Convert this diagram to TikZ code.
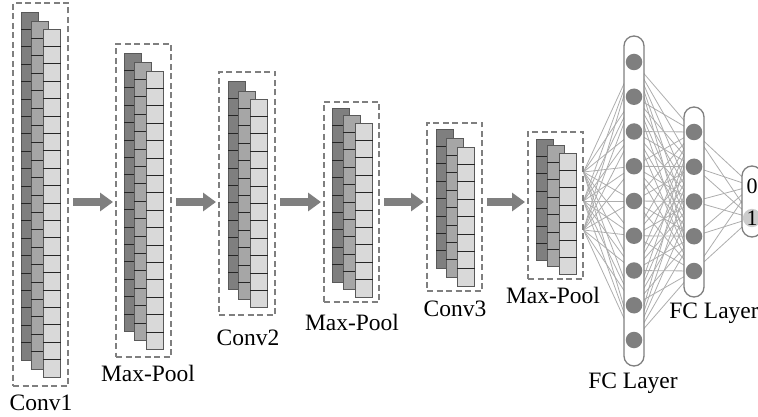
\documentclass[tikz,border=0pt]{standalone}
\usepackage{fontspec}
\setmainfont{Liberation Serif}
\usetikzlibrary{arrows.meta}
\definecolor{darkc}{HTML}{7F7F7F}
\definecolor{medc}{HTML}{A6A6A6}
\definecolor{lightc}{HTML}{D9D9D9}
\definecolor{edgec}{HTML}{595959}
\definecolor{sepc}{HTML}{262626}
\definecolor{boxc}{HTML}{7F7F7F}
\definecolor{arrowc}{HTML}{7F7F7F}
\definecolor{linkc}{HTML}{ADADAD}
\definecolor{capc}{HTML}{7F7F7F}
\definecolor{neuronc}{HTML}{7F7F7F}
\definecolor{outc}{HTML}{CCCCCC}
\pgfdeclarelayer{background}
\pgfsetlayers{background,main}
\newcommand\fmstack[4]{%
  \filldraw[fill=#4, draw=edgec, line width=0.9pt] (#1,#2) rectangle ++(17.5,{#3*17.4});
  \pgfmathtruncatemacro\fmlast{#3-1}%
  \foreach \k in {1,...,\fmlast}{\draw[sepc, line width=0.9pt] (#1,{#2+\k*17.4}) -- ++(17.5,0);}%
}
\begin{document}
\begin{tikzpicture}[x=1pt,y=-1pt,
  dbox/.style={draw=boxc, dash pattern=on 6pt off 3.5pt, line width=1.1pt, inner sep=0pt, outer sep=0pt, minimum width=55pt},
  bigarrow/.style={draw=arrowc, line width=8pt, -{Triangle[length=13pt,width=18pt]}, shorten <=5pt, shorten >=3pt},
  lbl/.style={font=\fontsize{23.5}{28}\selectfont, inner sep=0pt, anchor=base},
  caps/.style={draw=capc, fill=white, line width=1.3pt, minimum width=20pt, rounded corners=10pt, inner sep=0pt},
  neuron/.style={circle, fill=neuronc, minimum size=16.5pt, inner sep=0pt},
  outn/.style={circle, minimum size=16pt, inner sep=0pt, font=\fontsize{22}{26}\selectfont},
  link/.style={draw=linkc, line width=0.8pt}]
\useasboundingbox (0,0) rectangle (758,417);
\clip (0,0) rectangle (758,417);

% feature map stacks
\fmstack{21}{12}{20}{darkc}\fmstack{31}{21}{20}{medc}\fmstack{43}{29}{20}{lightc}
\fmstack{124}{53}{16}{darkc}\fmstack{134}{62}{16}{medc}\fmstack{146}{71}{16}{lightc}
\fmstack{228}{81}{12}{darkc}\fmstack{238}{91}{12}{medc}\fmstack{250}{99}{12}{lightc}
\fmstack{332}{108}{10}{darkc}\fmstack{343}{115}{10}{medc}\fmstack{355}{123}{10}{lightc}
\fmstack{436}{129}{8}{darkc}\fmstack{446}{138}{8}{medc}\fmstack{457}{147}{8}{lightc}
\fmstack{536}{139}{7}{darkc}\fmstack{547}{145}{7}{medc}\fmstack{559}{153}{7}{lightc}

% dashed boxes
\node[dbox, minimum height=383pt] (c1) at (40.5,194.5) {};
\node[dbox, minimum height=313pt] (mp1) at (143.5,200.5) {};
\node[dbox, minimum width=56pt, minimum height=243pt] (c2) at (247,193.5) {};
\node[dbox, minimum height=200pt] (mp2) at (351.5,202) {};
\node[dbox, minimum height=168pt] (c3) at (454.5,207) {};
\node[dbox, minimum height=147pt] (mp3) at (555.5,205.5) {};

% arrows
\coordinate (ay) at (0,202);
\draw[bigarrow] (c1.east |- ay) -- (mp1.west |- ay);
\draw[bigarrow] (mp1.east |- ay) -- (c2.west |- ay);
\draw[bigarrow] (c2.east |- ay) -- (mp2.west |- ay);
\draw[bigarrow] (mp2.east |- ay) -- (c3.west |- ay);
\draw[bigarrow] (c3.east |- ay) -- (mp3.west |- ay);

% labels
\node[lbl] (t1) at (41,410) {Conv1};
\node[lbl] (t2) at (148,381) {Max-Pool};
\node[lbl] (t3) at (248,345) {Conv2};
\node[lbl] (t4) at (352,330) {Max-Pool};
\node[lbl] (t5) at (455,316) {Conv3};
\node[lbl] (t6) at (553,303) {Max-Pool};
\node[lbl] (t7) at (633,388) {FC Layer};
\node[lbl] (t8) at (714,318) {FC Layer};

% fully connected layers
\node[caps, minimum height=330pt] (fc1) at (634,201) {};
\node[caps, minimum height=190pt] (fc2) at (694,202) {};
\node[caps, minimum height=71pt] (fc3) at (752,201.5) {};
\foreach \i in {1,...,9}{\node[neuron] (a\i) at (634,{62+34.75*(\i-1)}) {};}
\foreach \j in {1,...,5}{\node[neuron] (b\j) at (694,{132+34.75*(\j-1)}) {};}
\node[outn] (o1) at (752,186) {0};
\node[outn, fill=outc] (o2) at (752,218) {1};

\coordinate (s1) at (583.5,172);
\coordinate (s2) at (583.5,201);
\coordinate (s3) at (583.5,230);

\begin{pgfonlayer}{background}
\foreach \s in {1,2,3}{\foreach \i in {1,...,9}{\draw[link] (s\s) -- (a\i.center);}}
\foreach \i in {1,...,9}{\foreach \j in {1,...,5}{\draw[link] (a\i.center) -- (b\j.center);}}
\foreach \j in {1,...,5}{\foreach \k in {1,2}{\draw[link] (b\j.center) -- (o\k.center);}}
\end{pgfonlayer}
\end{tikzpicture}
\end{document}
